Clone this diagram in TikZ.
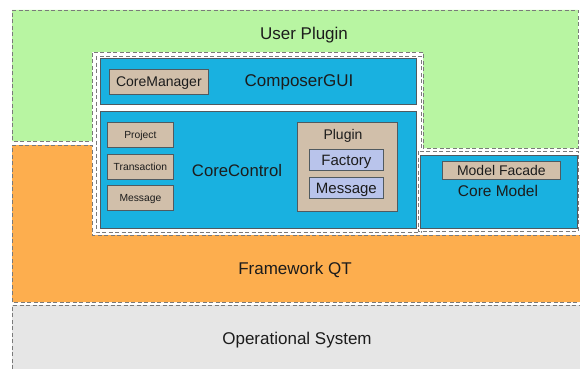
\documentclass[tikz,border=0pt]{standalone}
\usepackage{fontspec}
\setmainfont{Liberation Sans}
\usetikzlibrary{positioning}
\definecolor{plugingreen}{HTML}{B8F5A2}
\definecolor{qtorange}{HTML}{FDAE4E}
\definecolor{osgray}{HTML}{E6E6E6}
\definecolor{coreblue}{HTML}{19B1E0}
\definecolor{parttan}{HTML}{D1BFAA}
\definecolor{sublilac}{HTML}{B9C4EB}
\definecolor{dashgray}{HTML}{7A7A7A}
\definecolor{edgegray}{HTML}{505A60}
\definecolor{inkdark}{HTML}{1C1C1C}

\begin{document}
\begin{tikzpicture}[x=1pt, y=-1pt, text=inkdark, every node/.style={text depth=0pt},
    layerline/.style={draw=dashgray, dash pattern=on 4pt off 2.5pt, line width=0.9pt},
    module/.style={draw=edgegray, fill=coreblue, line width=0.8pt, anchor=north west, inner sep=0pt},
    part/.style={draw=edgegray, fill=parttan, line width=0.8pt, anchor=north west, inner sep=0pt},
    subpart/.style={draw=edgegray, fill=sublilac, line width=0.7pt, anchor=north west, inner sep=0pt},
    biglabel/.style={font=\fontsize{17}{20}\selectfont},
    midlabel/.style={font=\fontsize{14}{17}\selectfont},
    smalllabel/.style={font=\fontsize{10.3}{12}\selectfont}]
  \useasboundingbox (0,0) rectangle (580,369);

  % layers
  \fill[osgray] (12,305) rectangle (580,369);
  \draw[layerline] (12,369) -- (12,305) -- (580,305);
  \filldraw[fill=qtorange, layerline] (12,145) -- (92,145) -- (92,235) -- (580,235)
      -- (580,302) -- (12,302) -- cycle;
  \filldraw[fill=plugingreen, layerline] (12,10) -- (578,10) -- (578,148) -- (423,148)
      -- (423,52) -- (92,52) -- (92,141) -- (12,141) -- cycle;
  \filldraw[fill=white, layerline] (96,56) rectangle (421,232);
  \filldraw[fill=white, layerline] (418,151) rectangle (578,231);

  \node[biglabel] (userplugin) at (304,33) {User Plugin};
  \node[biglabel] (framework) at (295,268) {Framework QT};
  \node[biglabel] (opsystem) at (297,338) {Operational System};

  % composer
  \node[module, minimum width=316pt, minimum height=46pt] (gui) at (100,58) {};
  \node[biglabel] (guilabel) at (299,81) {ComposerGUI};
  \node[part, midlabel, minimum width=99pt, minimum height=25pt] (coremanager) at (109,69) {CoreManager};

  % core control
  \node[module, minimum width=316pt, minimum height=117pt] (control) at (100,111) {};
  \node[font=\fontsize{16.7}{20}\selectfont] (controllabel) at (237,170) {CoreControl};
  \node[part, smalllabel, minimum width=66pt, minimum height=25pt] (project) at (107,122) {Project};
  \node[part, smalllabel, minimum width=66pt, minimum height=25pt] (transaction) at (107,154) {Transaction};
  \node[part, smalllabel, minimum width=66pt, minimum height=25pt] (message) at (107,185) {Message};
  \node[part, minimum width=100pt, minimum height=89pt] (plugin) at (297,122) {};
  \node[midlabel] (pluginlabel) at (343,134) {Plugin};
  \node[subpart, font=\fontsize{15}{18}\selectfont, minimum width=74pt, minimum height=21pt] (factory) at (309,149) {Factory};
  \node[subpart, font=\fontsize{15}{18}\selectfont, minimum width=74pt, minimum height=21pt] (pluginmsg) at (309,177) {Message};

  % core model
  \node[module, minimum width=157pt, minimum height=73pt] (model) at (420,155) {};
  \node[part, midlabel, minimum width=118pt, minimum height=18pt] (facade) at (442,161) {Model Facade};
  \node[font=\fontsize{15.5}{18}\selectfont] (modellabel) at (498,191) {Core Model};
\end{tikzpicture}
\end{document}
